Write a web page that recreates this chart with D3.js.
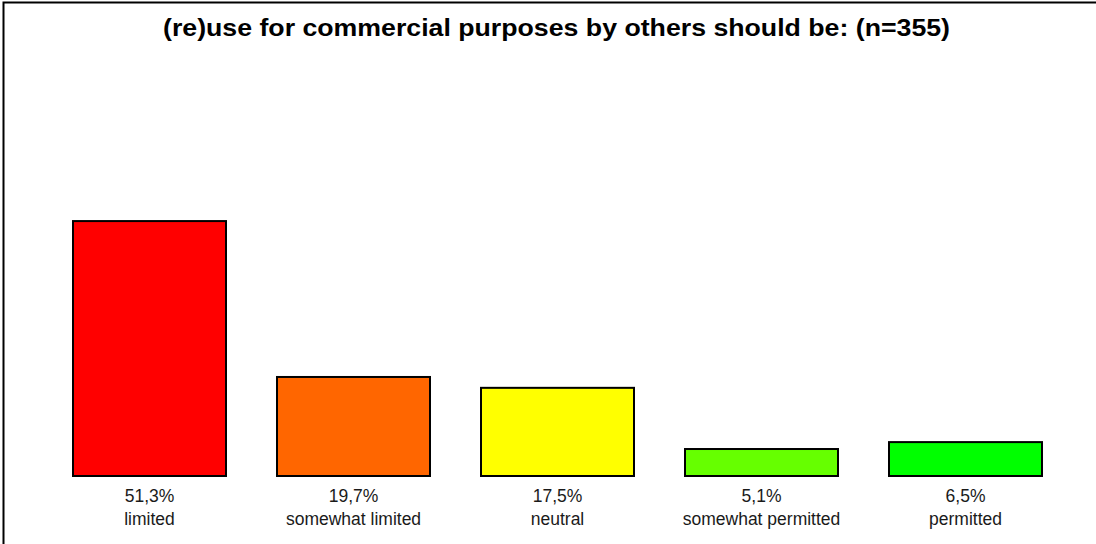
<!DOCTYPE html>
<html>
<head>
<meta charset="utf-8">
<script src="https://cdn.jsdelivr.net/npm/d3@7"></script>
<style>
  html, body { margin: 0; padding: 0; background: #fff; }
  svg { display: block; }
</style>
</head>
<body>
<svg id="chart" width="1096" height="544"></svg>
<script>
const categories = ["limited", "somewhat limited", "neutral", "somewhat permitted", "permitted"];
const values = [51.3, 19.7, 17.5, 5.1, 6.5];
const valueLabels = ["51,3%", "19,7%", "17,5%", "5,1%", "6,5%"];
const colors = ["#FF0000", "#FF6600", "#FFFF00", "#66FF00", "#00FF00"];
const title = "(re)use for commercial purposes by others should be: (n=355)";

const svg = d3.select("#chart");
const W = 1096, H = 544;

// frame
svg.append("rect")
  .attr("x", 3.5).attr("y", 2.5)
  .attr("width", W + 10).attr("height", H + 10)
  .attr("fill", "none").attr("stroke", "#000").attr("stroke-width", 2);

svg.append("text")
  .attr("x", 556.5).attr("y", 36)
  .attr("text-anchor", "middle")
  .attr("font-family", "Liberation Sans, Arial, sans-serif")
  .attr("font-weight", "bold")
  .attr("font-size", 24)
  .attr("textLength", 787)
  .attr("lengthAdjust", "spacingAndGlyphs")
  .text(title);

const x = d3.scaleBand()
  .domain(categories)
  .range([47.5, 1067.5])
  .paddingInner(0.25)
  .paddingOuter(0.125);

const y = d3.scaleLinear()
  .domain([-0.37, 88])
  .range([476, 40]);

const g = svg.append("g");

g.selectAll("rect.bar")
  .data(categories)
  .join("rect")
  .attr("class", "bar")
  .attr("x", d => x(d))
  .attr("width", x.bandwidth())
  .attr("y", (d, i) => y(values[i]))
  .attr("height", (d, i) => y(-0.37) - y(values[i]))
  .attr("fill", (d, i) => colors[i])
  .attr("stroke", "#000")
  .attr("stroke-width", 2);

const labels = g.selectAll("g.lab")
  .data(categories)
  .join("g")
  .attr("class", "lab")
  .attr("transform", d => `translate(${x(d) + x.bandwidth() / 2},0)`);

labels.append("text")
  .attr("y", 502)
  .attr("text-anchor", "middle")
  .attr("font-family", "Liberation Sans, Arial, sans-serif")
  .attr("font-size", 17.5)
  .attr("fill", "#1a1a1a")
  .text((d, i) => valueLabels[i]);

labels.append("text")
  .attr("y", 525)
  .attr("text-anchor", "middle")
  .attr("font-family", "Liberation Sans, Arial, sans-serif")
  .attr("font-size", 17.5)
  .attr("fill", "#1a1a1a")
  .text(d => d);
</script>
</body>
</html>
